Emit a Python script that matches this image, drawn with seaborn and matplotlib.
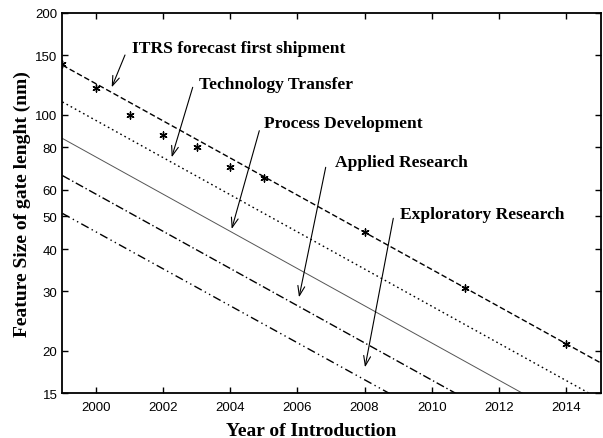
import numpy as np
import pandas as pd
import matplotlib
matplotlib.use("Agg")
import matplotlib.pyplot as plt
import seaborn as sns

sns.set_style("ticks")
plt.rcParams['font.family'] = ['Liberation Sans', 'DejaVu Sans']
plt.rcParams['text.color'] = 'black'
plt.rcParams['axes.labelcolor'] = 'black'

# ITRS forecast points (first shipment)
years = [1999, 2000, 2001, 2002, 2003, 2004, 2005, 2008, 2011, 2014]
sizes = [141, 120, 100, 87, 80, 70, 65, 45, 30.7, 21]

# trend lines, value at 1999 and at 2015
line_names = ["ITRS forecast first shipment", "Technology Transfer",
              "Process Development", "Applied Research", "Exploratory Research"]
line_years = [1999, 2015]
line_start = [140, 109, 85, 66, 51]
line_end = [18.5, 14.4, 11.2, 8.7, 6.8]

yticks = [15, 20, 30, 40, 50, 60, 80, 100, 150, 200]
xticks = [2000, 2002, 2004, 2006, 2008, 2010, 2012, 2014]

styles = [(0, (4, 2)), (0, (1.2, 2.2)), "-", (0, (6, 2, 1, 2)), (0, (6, 2.5, 1, 2.5, 1, 2.5))]
colors = ["black", "black", "#555555", "black", "black"]
widths = [1.0, 1.0, 0.7, 1.0, 1.0]

fig = plt.figure(figsize=(6.03, 4.39), dpi=100)
ax = fig.add_axes([0.1035, 0.1025, 0.8935, 0.866])

for name, s, e, ls, c, lw in zip(line_names, line_start, line_end, styles, colors, widths):
    df = pd.DataFrame({"year": line_years, "size": [s, e]})
    sns.lineplot(data=df, x="year", y="size", ax=ax, color=c, lw=lw, linestyle=ls)

pts = pd.DataFrame({"year": years, "size": sizes})
sns.scatterplot(data=pts, x="year", y="size", ax=ax, marker=(6, 2, 0), s=26,
                color="black", linewidth=1.0, zorder=5)

ax.set_yscale("log")
ax.set_xlim(1999, 2015.05)
ax.set_ylim(15, 200)
ax.set_yticks(yticks)
ax.set_yticklabels([str(v) for v in yticks])
ax.yaxis.set_minor_locator(matplotlib.ticker.NullLocator())
ax.set_xticks(xticks)
ax.set_xticklabels([str(v) for v in xticks])
ax.tick_params(direction="in", length=4, width=1, top=True, right=True,
               labelsize=9.5, colors="black")
ax.tick_params(axis="x", pad=6)
for sp in ax.spines.values():
    sp.set_visible(True)
    sp.set_linewidth(1.3)
    sp.set_color("black")

serif = ["Liberation Serif", "DejaVu Serif"]
ax.set_xlabel("Year of Introduction", fontsize=14, fontweight="bold", family=serif)
ax.xaxis.set_label_coords(0.462, -0.075)
ax.set_ylabel("Feature Size of gate lenght (nm)", fontsize=14, fontweight="bold", family=serif, labelpad=3)

# labels and arrows, placed in figure pixels
H = 439
text_pos = [(132, 49), (199, 85), (264, 124), (335, 163), (400, 215)]
arrows = [((125, 56), (111.7, 88.3)), ((192.7, 88.3), (171.7, 158.3)),
          ((259.3, 131.7), (231.7, 230)), ((325.7, 168.3), (299, 298.3)),
          ((393.3, 219.3), (365, 368.3))]
for name, (tx, ty), (a, b) in zip(line_names, text_pos, arrows):
    fig.text(tx / 603, 1 - ty / H, name, fontsize=12.6, fontweight="bold", family=serif,
             va="center", ha="left", color="black")
    ax.annotate("", xy=(b[0], H - b[1]), xytext=(a[0], H - a[1]),
                xycoords="figure pixels", textcoords="figure pixels",
                arrowprops=dict(arrowstyle="->,head_length=0.7,head_width=0.25",
                                color="black", lw=0.8, shrinkA=0, shrinkB=0))

fig.savefig("out.png", dpi=100)
